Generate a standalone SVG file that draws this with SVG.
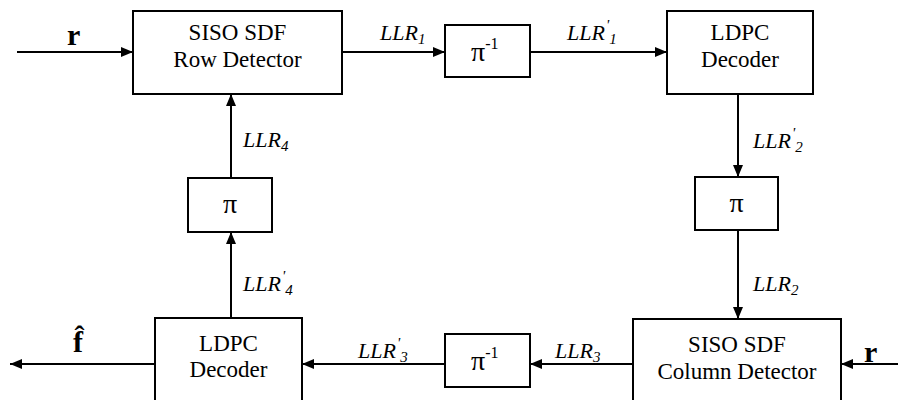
<svg xmlns="http://www.w3.org/2000/svg" width="898" height="400" viewBox="0 0 898 400">
  <style>
    .box { fill: #fff; stroke: #000; stroke-width: 2; }
    .wire { fill: none; stroke: #000; stroke-width: 2; }
    text { font-family: 'Liberation Serif', 'Times New Roman', Times, serif; fill: #000; }
    .blk { font-size: 23px; text-anchor: middle; }
    .pi { font-size: 28px; }
    .lab { font-size: 22px; font-style: italic; }
    .sub { font-size: 15px; }
    .sig { font-size: 30px; font-weight: bold; }
  </style>
  <defs>
    <marker id="ah" viewBox="0 0 12 10" refX="12" refY="5" markerWidth="12" markerHeight="10" markerUnits="userSpaceOnUse" orient="auto">
      <path d="M0,0 L12,5 L0,10 Z" fill="#000"/>
    </marker>
  </defs>

  <!-- connectors and their signal labels -->
  <g id="connectors">
    <line class="wire" x1="17" y1="52" x2="133" y2="52" marker-end="url(#ah)"/>
    <line class="wire" x1="342" y1="52" x2="445" y2="52" marker-end="url(#ah)"/>
    <line class="wire" x1="530" y1="52" x2="667" y2="52" marker-end="url(#ah)"/>
    <line class="wire" x1="738" y1="94" x2="738" y2="177" marker-end="url(#ah)"/>
    <line class="wire" x1="738" y1="230" x2="738" y2="319" marker-end="url(#ah)"/>
    <line class="wire" x1="898" y1="364" x2="841" y2="364" marker-end="url(#ah)"/>
    <line class="wire" x1="633" y1="364" x2="530" y2="364" marker-end="url(#ah)"/>
    <line class="wire" x1="445" y1="364" x2="302" y2="364" marker-end="url(#ah)"/>
    <line class="wire" x1="155" y1="364" x2="10" y2="364" marker-end="url(#ah)"/>
    <line class="wire" x1="231" y1="318" x2="231" y2="232" marker-end="url(#ah)"/>
    <line class="wire" x1="231" y1="178" x2="231" y2="94" marker-end="url(#ah)"/>

    <text class="lab" x="380" y="40">LLR<tspan class="sub" dy="4">1</tspan></text>
    <text class="lab" x="567" y="40">LLR<tspan class="sub" dx="1" dy="-10">'</tspan><tspan class="sub" dy="14">1</tspan></text>
    <text class="lab" x="753" y="148">LLR<tspan class="sub" dx="1" dy="-10">'</tspan><tspan class="sub" dy="14">2</tspan></text>
    <text class="lab" x="753" y="291">LLR<tspan class="sub" dy="4">2</tspan></text>
    <text class="lab" x="555" y="358">LLR<tspan class="sub" dy="4">3</tspan></text>
    <text class="lab" x="358" y="358">LLR<tspan class="sub" dx="1" dy="-10">'</tspan><tspan class="sub" dy="14">3</tspan></text>
    <text class="lab" x="243" y="147">LLR<tspan class="sub" dy="4">4</tspan></text>
    <text class="lab" x="243" y="291">LLR<tspan class="sub" dx="1" dy="-10">'</tspan><tspan class="sub" dy="14">4</tspan></text>

    <text class="sig" x="67" y="45">r</text>
    <text class="sig" x="864" y="362">r</text>
    <text class="sig" x="73" y="352">f̂</text>
  </g>

  <g id="row-detector">
    <rect class="box" x="133" y="11" width="209" height="83"/>
    <text class="blk" x="237.5" y="40">SISO SDF</text>
    <text class="blk" x="237.5" y="67">Row Detector</text>
  </g>

  <g id="deinterleaver-top">
    <rect class="box" x="445" y="25" width="85" height="52"/>
    <text class="pi" x="471" y="61">π<tspan style="font-size:16px" dy="-12">-1</tspan></text>
  </g>

  <g id="ldpc-top">
    <rect class="box" x="667" y="11" width="146" height="83"/>
    <text class="blk" x="740" y="40">LDPC</text>
    <text class="blk" x="740" y="67">Decoder</text>
  </g>

  <g id="interleaver-right">
    <rect class="box" x="695" y="177" width="83" height="53"/>
    <text class="pi" x="736.5" y="212" text-anchor="middle">π</text>
  </g>

  <g id="column-detector">
    <rect class="box" x="633" y="319" width="208" height="90"/>
    <text class="blk" x="737" y="352">SISO SDF</text>
    <text class="blk" x="737" y="379">Column Detector</text>
  </g>

  <g id="deinterleaver-bottom">
    <rect class="box" x="445" y="334" width="85" height="53"/>
    <text class="pi" x="471" y="370">π<tspan style="font-size:16px" dy="-12">-1</tspan></text>
  </g>

  <g id="ldpc-bottom">
    <rect class="box" x="155" y="318" width="147" height="90"/>
    <text class="blk" x="228.5" y="351">LDPC</text>
    <text class="blk" x="228.5" y="377">Decoder</text>
  </g>

  <g id="interleaver-left">
    <rect class="box" x="188" y="178" width="84" height="54"/>
    <text class="pi" x="230" y="213" text-anchor="middle">π</text>
  </g>
</svg>
